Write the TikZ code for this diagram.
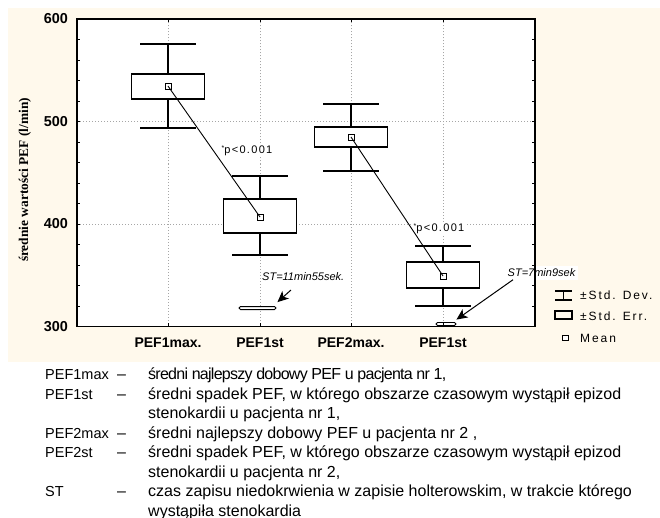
\documentclass[tikz,border=0pt]{standalone}
\usepackage{fontspec}
\setmainfont{Liberation Sans}
\newfontfamily\ylabfont{Liberation Serif}
\usetikzlibrary{arrows.meta}
\definecolor{chartbg}{RGB}{255,249,236}

\begin{document}
\begin{tikzpicture}[x=1pt,y=-1pt,
  grid/.style={gray!70,line width=0.5pt,dash pattern=on 1pt off 2pt},
  whisk/.style={line width=1.1pt},
  sebox/.style={draw,fill=white,line width=1.1pt},
  meanpt/.style={draw,fill=white,line width=0.9pt,minimum size=6pt,inner sep=0pt},
  flatbar/.style={draw,fill=white,line width=0.9pt,rounded corners=1.5pt,minimum height=3pt,inner sep=0pt},
  starrow/.style={line width=1pt,-{Stealth[length=11pt,width=10pt,inset=3pt]}},
  pval/.style={fill=white,inner sep=1pt,font=\fontsize{11}{13}\selectfont\addfontfeature{LetterSpace=12}},
  stlab/.style={inner sep=1pt,font=\fontsize{11}{13}\selectfont\itshape},
  catlab/.style={font=\fontsize{14}{16}\selectfont\bfseries},
  ticklab/.style={anchor=east,inner sep=0pt,font=\fontsize{14.4}{16}\selectfont\bfseries},
  leg/.style={anchor=west,inner sep=0pt,font=\fontsize{12}{14}\selectfont\addfontfeature{LetterSpace=16}},
  desc/.style={anchor=base west,inner sep=0pt,font=\fontsize{16}{19}\selectfont},
  desckey/.style={desc,font=\fontsize{14.5}{19}\selectfont}]
  \useasboundingbox (0,0) rectangle (660,518);
  \fill[white] (0,0) rectangle (660,518);
  \fill[chartbg] (8,8) rectangle (660,362);
  \fill[white] (77,19) rectangle (535,326);
  \node[rotate=90,font=\ylabfont\bfseries\fontsize{13.4}{15}\selectfont] (ylab) at (25,180) {średnie wartości PEF (l/min)};

  % plot in data units (y = PEF)
  \begin{scope}[y=1.025pt,yshift=-634pt]
    \foreach \cx in {168,260,351,443}
      \draw[grid] (\cx,300) -- (\cx,600);
    \foreach \v in {400,500}
      \draw[grid] (77,\v) -- (535,\v);
    \node[pval] (p1) at (247,471.2) {\raisebox{3pt}{\fontsize{7}{7}\selectfont*}p<0.001};
    \node[pval] (p2) at (439,395.1) {\raisebox{3pt}{\fontsize{7}{7}\selectfont*}p<0.001};
    \foreach \cx/\sdt/\set/\mn/\seb/\sdb/\k in {168/575.6/546.3/534.6/522/493.7/1,
        260/446.8/424.4/406.8/391.2/369.8/2, 351/517.1/494.6/484.9/475.1/451.7/3,
        443/378.5/362.9/349.3/337.6/320/4}{
      \draw[whisk] (\cx-28,\sdt) -- (\cx+28,\sdt) (\cx,\sdt) -- (\cx,\sdb)
        (\cx-28,\sdb) -- (\cx+28,\sdb);
      \draw[sebox] (\cx-36.5,\set) rectangle (\cx+36.5,\seb);
      \node[meanpt] (m\k) at (\cx,\mn) {};
    }
    \draw[line width=0.9pt] (m1.center) -- (m2.center) (m3.center) -- (m4.center);
    \node[flatbar,minimum width=37pt] (b1) at (257.5,318) {};
    \node[flatbar,minimum width=20pt] (b2) at (446,302.4) {};
    \node[stlab,anchor=west] (st1) at (261,348.3) {ST=11min55sek.};
    \node[stlab,anchor=west,fill=white,inner sep=2.5pt] (st2) at (505,352.2) {ST=7min9sek};
    \coordinate (t1) at (291,335.6);
    \draw[starrow] (t1) -- ([xshift=1pt,yshift=4pt]b1.north east);
    \draw[starrow] ([xshift=8pt]st2.south west) -- ([yshift=2.5pt]b2.north east);
    % frame and ticks
    \draw[line width=1.2pt] (77,300) rectangle (535,600);
    \foreach \v in {320,340,...,580}{
      \draw[line width=0.8pt] (77,\v) -- ++(3,0);
      \draw[line width=0.8pt] (535,\v) -- ++(-3,0);
    }
    \foreach \cx in {168,260,351,443}{
      \draw[line width=0.8pt] (\cx,300) -- ++(0,3);
      \draw[line width=0.8pt] (\cx,600) -- ++(0,-3);
    }
    \foreach \v in {300,400,500,600}
      \node[ticklab] (t\v) at (68,\v) {\v};
    \foreach \cx/\lab/\k in {168/PEF1max./1,260/PEF1st/2,351/PEF2max./3,443/PEF1st/4}
      \node[catlab] (c\k) at (\cx,283.9) {\lab};
  \end{scope}

  % legend
  \draw[line width=1.1pt] (555,291) -- (572,291) (563.5,291) -- (563.5,300) (555,300) -- (572,300);
  \draw[line width=1.1pt] (555,311) rectangle (572,319);
  \node[meanpt,minimum size=5.5pt] (lmsq) at (565.5,338) {};
  \node[leg] (ldev) at (580,295) {±Std. Dev.};
  \node[leg] (lerr) at (580,316) {±Std. Err.};
  \node[leg] (lmean) at (580,338) {Mean};

  % explanations
  \node[desckey] (k1) at (45,379.5) {PEF1max};
  \node[desckey] (k2) at (45,399) {PEF1st};
  \node[desckey] (k3) at (45,438) {PEF2max};
  \node[desckey] (k4) at (45,457.5) {PEF2st};
  \node[desckey] (k5) at (45,496.5) {ST};
  \foreach \yy/\k in {379.5/1,399/2,438/3,457.5/4,496.5/5}
    \node[desc] (d\k) at (117,\yy) {–};
  \node[desc,font=\fontsize{16}{19}\selectfont\addfontfeature{LetterSpace=-4.6}] (e1) at (148,379.5) {średni najlepszy dobowy PEF u pacjenta nr 1,};
  \node[desc] (e2) at (148,399) {średni spadek PEF, w którego obszarze czasowym wystąpił epizod};
  \node[desc] (e3) at (148,418.5) {stenokardii u pacjenta nr 1,};
  \node[desc] (e4) at (148,438) {średni najlepszy dobowy PEF u pacjenta nr 2 ,};
  \node[desc] (e5) at (148,457.5) {średni spadek PEF, w którego obszarze czasowym wystąpił epizod};
  \node[desc] (e6) at (148,477) {stenokardii u pacjenta nr 2,};
  \node[desc] (e7) at (148,496.5) {czas zapisu niedokrwienia w zapisie holterowskim, w trakcie którego};
  \node[desc] (e8) at (148,516) {wystąpiła stenokardia};
\end{tikzpicture}
\end{document}
